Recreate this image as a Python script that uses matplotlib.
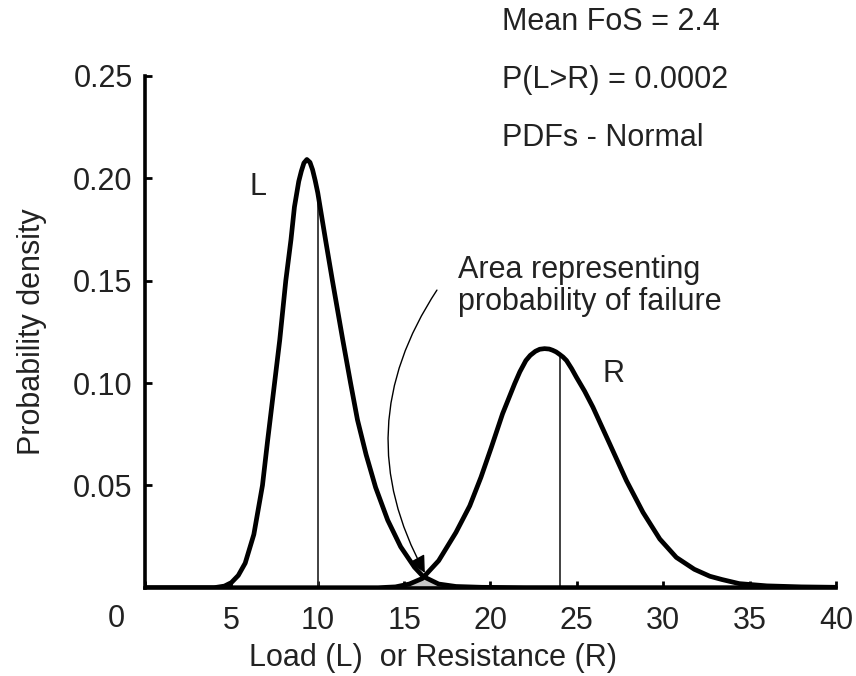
"""
Load vs resistance probability densities, with the overlap region
that represents the probability of failure.
"""

import matplotlib
matplotlib.use("Agg")
import matplotlib.pyplot as plt

plt.rcParams['font.family'] = ['Liberation Sans', 'DejaVu Sans']

# load curve L
load_x = [0, 4.0, 4.6, 5.0, 5.4, 5.8, 6.3, 6.8, 7.1, 7.5, 7.8, 8.15, 8.45, 8.65,
          8.9, 9.05, 9.2, 9.37, 9.55, 9.7, 9.85, 10.0, 10.45, 10.85, 11.45, 11.9,
          12.3, 12.8, 13.35, 14.05, 14.8, 15.6, 16.1, 17.0, 18.0, 19.5, 22.0, 40.0]
load_y = [0, 0, 0.0008, 0.0025, 0.006, 0.012, 0.026, 0.050, 0.072, 0.100, 0.121,
          0.150, 0.170, 0.186, 0.1985, 0.2035, 0.2075, 0.2092, 0.2078, 0.2042, 0.1990,
          0.193, 0.170, 0.150, 0.121, 0.100, 0.082, 0.065, 0.049, 0.033, 0.020,
          0.010, 0.0055, 0.0018, 0.0006, 0.0002, 0.00005, 0]

# resistance curve R
res_x = [0, 13.5, 14.5, 15.3, 16.05, 17.0, 18.0, 18.8, 19.45, 20.05, 20.7, 21.4,
         21.7, 22.05, 22.3, 22.6, 22.85, 23.13, 23.4, 23.6, 23.8, 24.0, 24.2, 24.4,
         24.7, 24.97, 25.45, 25.93, 26.9, 27.87, 28.83, 29.8, 30.76, 31.8, 32.7,
         33.4, 34.4, 36.0, 38.0, 40.0]
res_y = [0, 0, 0.0004, 0.0018, 0.0045, 0.0132, 0.027, 0.040, 0.054, 0.0686, 0.085,
         0.0997, 0.1055, 0.111, 0.1135, 0.1155, 0.1165, 0.1168, 0.1166, 0.1160,
         0.1152, 0.1140, 0.1127, 0.1110, 0.1070, 0.1029, 0.0960, 0.0882, 0.0703,
         0.0523, 0.0368, 0.0238, 0.0148, 0.0090, 0.0056, 0.0040, 0.0020, 0.0009,
         0.0004, 0.0002]

load_mean = 10.0
res_mean = 24.0
cross_x = 16.05

x_ticks = [0, 5, 10, 15, 20, 25, 30, 35, 40]
x_labels = ['', '5', '10', '15', '20', '25', '30', '35', '40']
y_ticks = [0.05, 0.10, 0.15, 0.20, 0.25]
y_labels = ['0.05', '0.10', '0.15', '0.20', '0.25']

notes = ["Mean FoS = 2.4", "P(L>R) = 0.0002", "PDFs - Normal"]

txt = '#222222'
fs = 22

fig = plt.figure(figsize=(8.56, 6.76), dpi=100)
ax = fig.add_axes([0.1694, 0.1306, 0.8072, 0.757])

# failure area: under R left of the crossing, under L right of it
fx = [x for x in res_x if x <= cross_x] + [x for x in load_x if x >= cross_x]
fy = [y for x, y in zip(res_x, res_y) if x <= cross_x] + \
     [y for x, y in zip(load_x, load_y) if x >= cross_x]
ax.fill(fx + [fx[-1], fx[0]], fy + [0, 0], color='#c8c8c8', lw=0, zorder=1)

# mean lines
ax.vlines(load_mean, 0, load_y[load_x.index(load_mean)], color='#333333', lw=1.3, zorder=2)
ax.vlines(res_mean, 0, res_y[res_x.index(res_mean)], color='#333333', lw=1.3, zorder=2)

ax.plot(load_x, load_y, color='black', lw=3.4, solid_joinstyle='round', zorder=3)
ax.plot(res_x, res_y, color='black', lw=3.4, solid_joinstyle='round', zorder=3)

ax.set_xlim(0, 40)
ax.set_ylim(0, 0.25)
ax.set_xticks(x_ticks)
ax.set_xticklabels(x_labels)
ax.set_yticks(y_ticks)
ax.set_yticklabels(y_labels)
ax.tick_params(axis='both', direction='in', length=5, width=2, colors='black',
               labelcolor=txt, labelsize=fs)
ax.tick_params(axis='x', pad=13)
ax.tick_params(axis='y', pad=9)

for s in ['top', 'right']:
    ax.spines[s].set_visible(False)
for s in ['left', 'bottom']:
    ax.spines[s].set_linewidth(2.6)
    ax.spines[s].set_capstyle('projecting')

ax.set_xlabel('Load (L)  or Resistance (R)', fontsize=fs, color=txt)
ax.set_ylabel('Probability density', fontsize=fs, color=txt)
ax.xaxis.label.set_va('center')
ax.yaxis.label.set_va('center')
ax.yaxis.label.set_ha('center')
ax.xaxis.set_label_coords(0.417, -0.137)
ax.yaxis.set_label_coords(-0.1635, 0.5)

# shared zero at the corner
fig.text(116.7 / 856, 1 - 619 / 676, '0', fontsize=fs, color=txt, ha='center', va='center')

ax.text(6.54, 0.196, 'L', fontsize=fs, color=txt, ha='center', va='center')
ax.text(27.14, 0.1044, 'R', fontsize=fs, color=txt, ha='center', va='center')
ax.text(18.1, 0.1474, 'Area representing\nprobability of failure', fontsize=fs,
        color=txt, ha='left', va='center', linespacing=1.05)

ax.annotate('', xy=(16.2, 0.0072), xytext=(16.9, 0.1454),
            arrowprops=dict(arrowstyle='-|>', color='black', lw=1.0,
                            mutation_scale=26,
                            connectionstyle='arc3,rad=0.3',
                            shrinkA=0, shrinkB=0))

for i, n in enumerate(notes):
    fig.text(502 / 856, 1 - (22 + 58 * i) / 676, n, fontsize=fs, color=txt,
             ha='left', va='center')

fig.savefig('out.png', dpi=100)
